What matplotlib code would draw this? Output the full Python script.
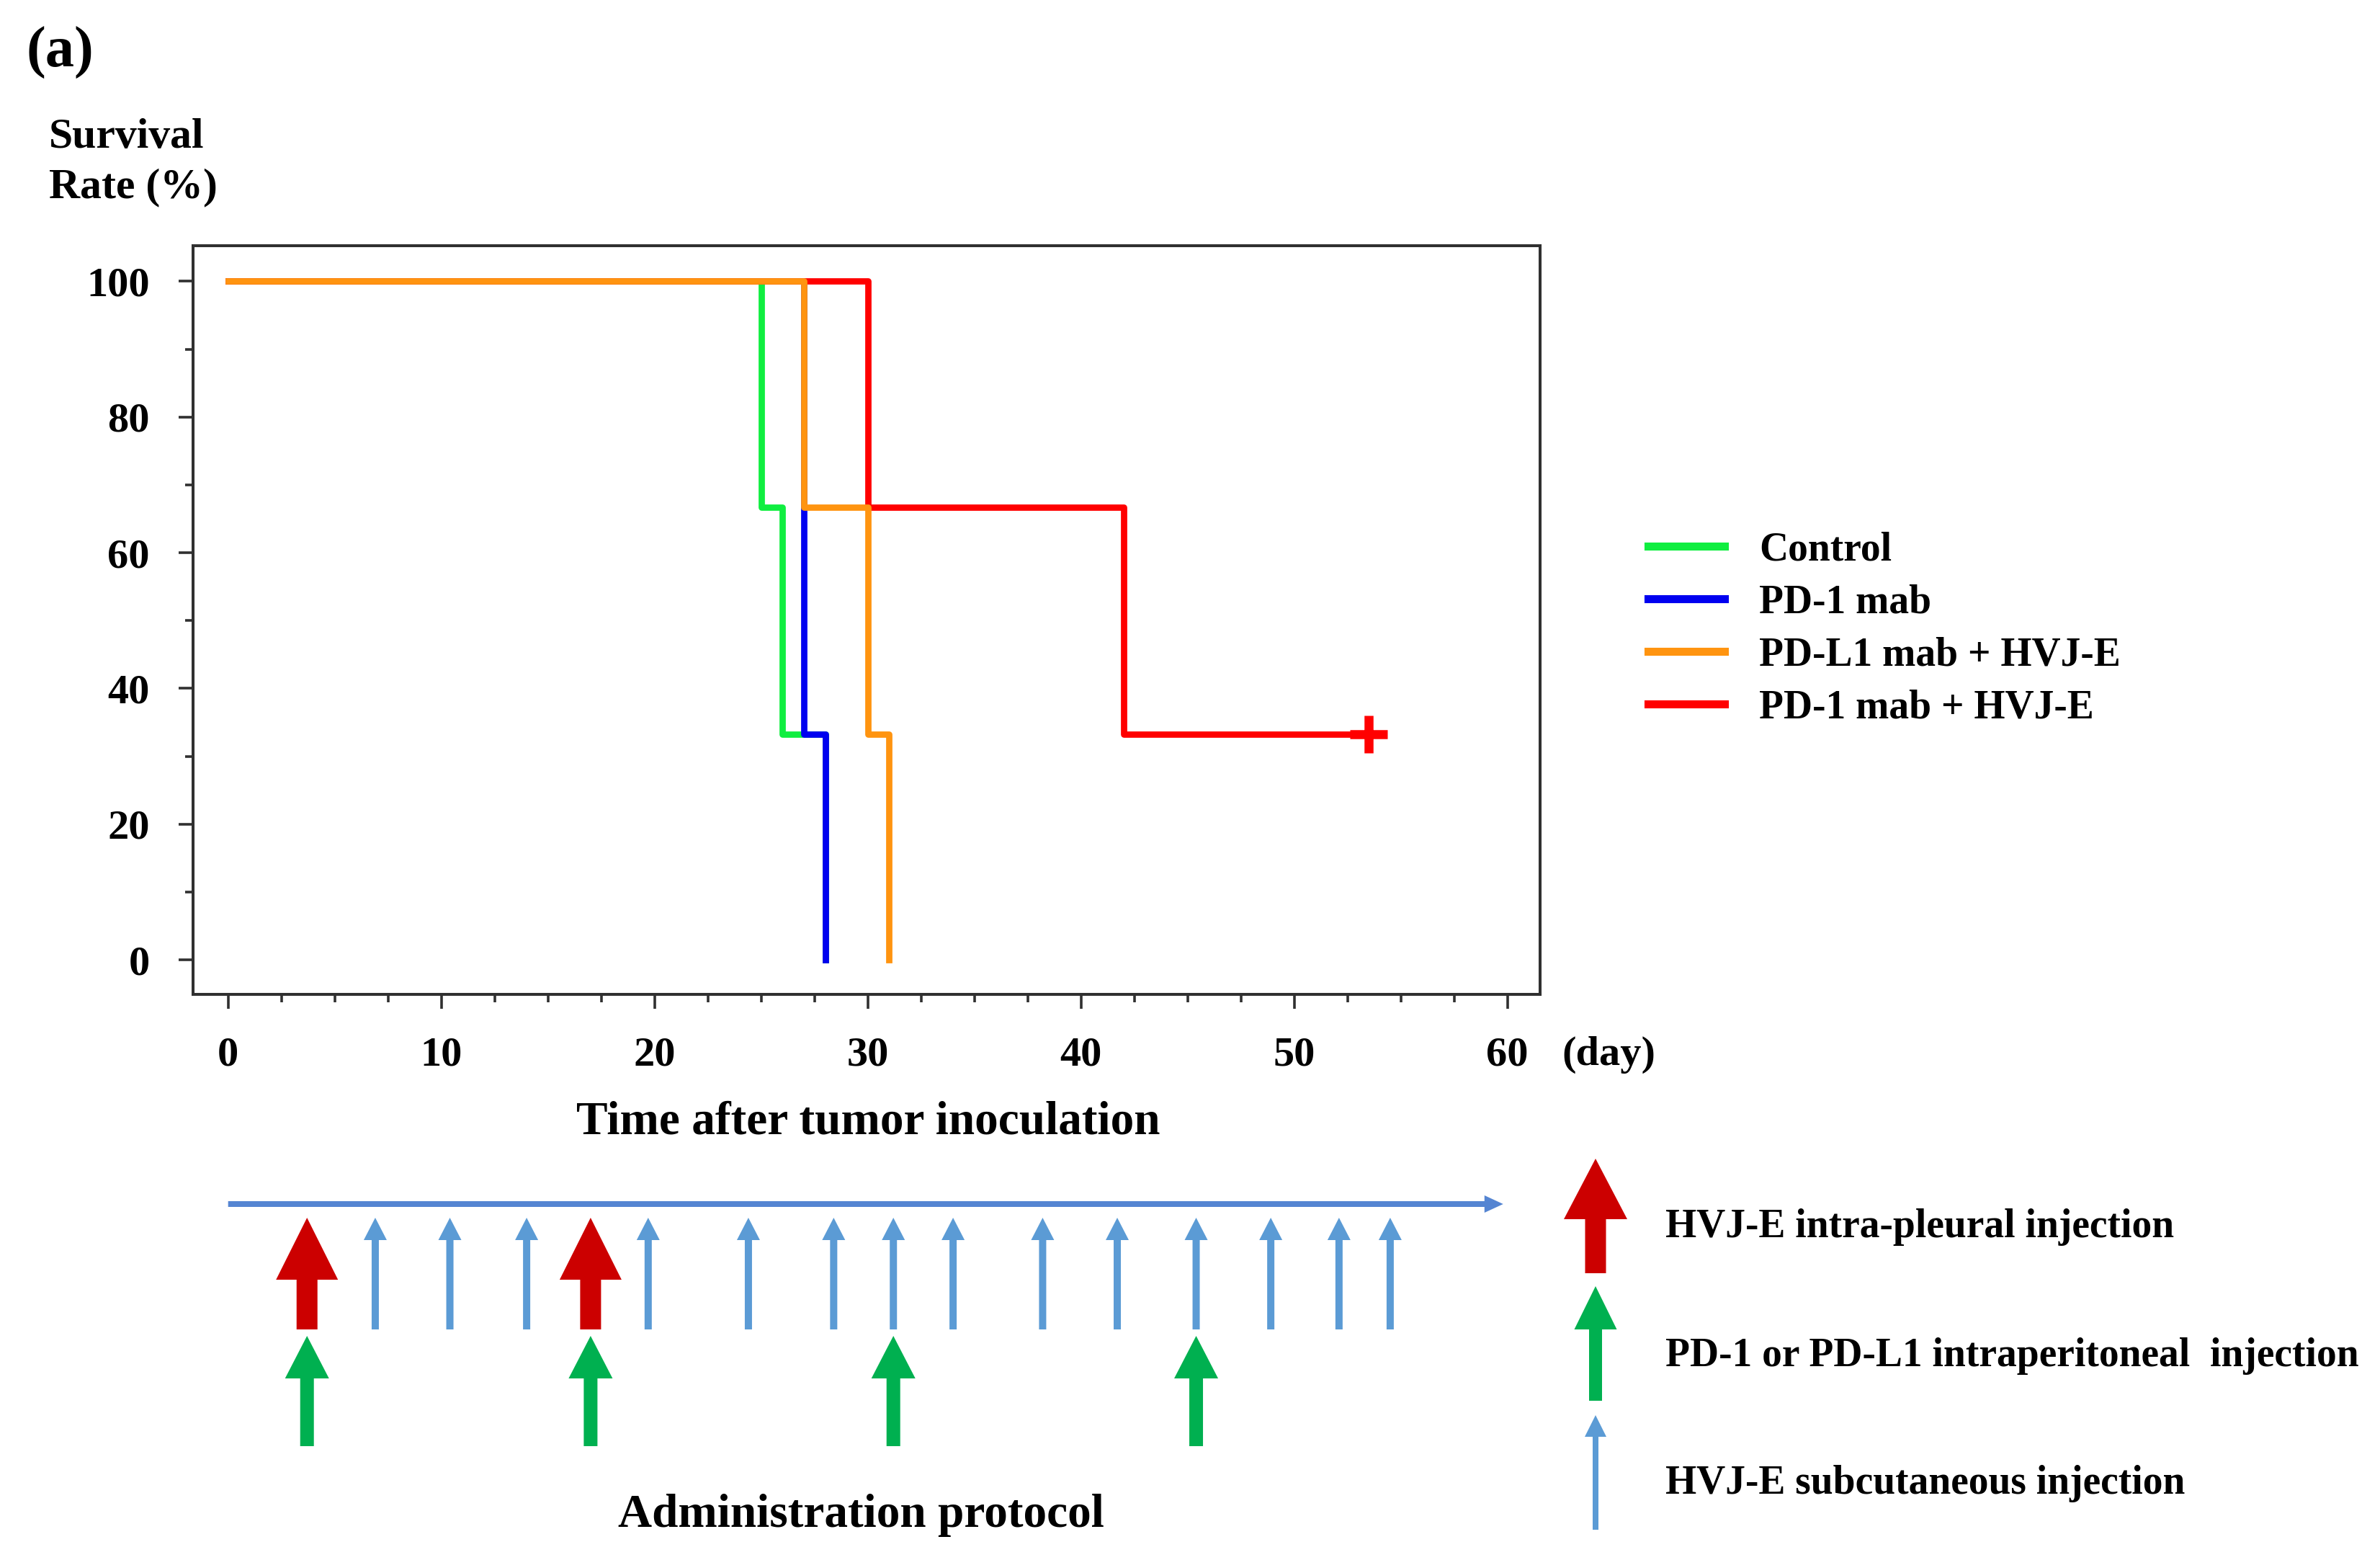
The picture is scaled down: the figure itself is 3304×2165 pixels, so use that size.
import matplotlib
matplotlib.use("Agg")
import matplotlib.pyplot as plt
from matplotlib.ticker import MultipleLocator

# ---------------- data ----------------
groups = ["Control", "PD-1 mab", "PD-L1 mab + HVJ-E", "PD-1 mab + HVJ-E"]
control_t = [0, 25, 26, 28]
control_s = [100, 66.7, 33.3, 0]
pd1_t = [0, 27, 28]
pd1_s = [100, 33.3, 0]
pdl1_hvj_t = [0, 27, 30, 31]
pdl1_hvj_s = [100, 66.7, 33.3, 0]
pd1_hvj_t = [0, 30, 42, 53.5]
pd1_hvj_s = [100, 66.7, 33.3, 33.3]
censor_t = [53.5]
censor_s = [33.3]

x_ticks = [0, 10, 20, 30, 40, 50, 60]
y_ticks = [0, 20, 40, 60, 80, 100]

# administration protocol (days)
pleural_days = [3.7, 17.0]
antibody_days = [3.7, 17.0, 31.2, 45.4]
subcut_days = [6.9, 10.4, 14.0, 19.7, 24.4, 28.4, 31.2, 34.0, 38.2, 41.7,
               45.4, 48.9, 52.1, 54.5]
protocol_labels = ["HVJ-E intra-pleural injection",
                   "PD-1 or PD-L1 intraperitoneal  injection",
                   "HVJ-E subcutaneous injection"]

# ---------------- style ----------------
W, H = 3305, 2165
DPI = 100
FONT = "Liberation Serif"
plt.rcParams["font.family"] = [FONT, "DejaVu Serif"]
plt.rcParams["font.weight"] = "bold"

c_green = "#10EE40"
c_blue = "#0000F0"
c_orange = "#FF9410"
c_red = "#FF0000"
spine_col = "#303030"

fig = plt.figure(figsize=(W / DPI, H / DPI), dpi=DPI)

def fx(px):
    return px / W

def fy(py):
    return 1 - py / H

# main axes in pixel geometry
L, R, T, B = 268, 2138, 341, 1380
ax = fig.add_axes([fx(L), fy(B), (R - L) / W, (B - T) / H])
ax.set_xlim(-1.645, 61.53)
ax.set_ylim(-5.09, 105.25)

lw = 6.3
ax.step(control_t, control_s, where="post", color=c_green, lw=lw, label=groups[0], zorder=2)
ax.step(pd1_t, pd1_s, where="post", color=c_blue, lw=lw, label=groups[1], zorder=3)
ax.step(pd1_hvj_t, pd1_hvj_s, where="post", color=c_red, lw=lw, label=groups[3], zorder=4)
ax.step(pdl1_hvj_t, pdl1_hvj_s, where="post", color=c_orange, lw=lw, label=groups[2], zorder=5)
ax.plot(censor_t, censor_s, linestyle="none", marker="+", markersize=38,
        markeredgewidth=9, color=c_red, zorder=6)

for s in ax.spines.values():
    s.set_linewidth(2.9)
    s.set_color(spine_col)

ax.set_xticks(x_ticks)
ax.set_yticks(y_ticks)
ax.xaxis.set_minor_locator(MultipleLocator(2.5))
ax.yaxis.set_minor_locator(MultipleLocator(10))
ax.tick_params(axis="both", which="major", length=14.4, width=2.6, color=spine_col,
               labelsize=42, direction="out")
ax.tick_params(axis="both", which="minor", length=7.9, width=2.6, color=spine_col,
               direction="out")
ax.tick_params(axis="y", which="major", pad=29)
ax.tick_params(axis="x", which="major", pad=28)
for lab in ax.get_xticklabels() + ax.get_yticklabels():
    lab.set_fontweight("bold")
    lab.set_fontfamily(FONT)

# legend
handles, labels = ax.get_legend_handles_labels()
order = [groups.index(l) for l in labels]
hl = sorted(zip(order, handles, labels))
leg = ax.legend([h for _, h, _ in hl], [l for _, _, l in hl],
                loc="upper left", bbox_to_anchor=(fx(2288), fy(737)),
                bbox_transform=fig.transFigure, frameon=False,
                borderpad=0, borderaxespad=0, handlelength=1.9,
                handletextpad=0.88, labelspacing=0.38,
                prop={"family": FONT, "weight": "bold", "size": 40})
for line in leg.get_lines():
    line.set_linewidth(8)

# texts
fig.text(fx(37), fy(93), "(a)", fontsize=58, fontweight="bold", family=FONT,
         ha="left", va="baseline")
fig.text(fx(68), fy(205), "Survival", fontsize=43, fontweight="bold", family=FONT,
         ha="left", va="baseline")
fig.text(fx(68), fy(274), "Rate (%)", fontsize=43, fontweight="bold", family=FONT,
         ha="left", va="baseline")
fig.text(fx(2168), fy(1464), "(day)", fontsize=42, fontweight="bold", family=FONT,
         ha="left", va="center")
fig.text(fx(1205), fy(1573), "Time after tumor inoculation", fontsize=47,
         fontweight="bold", family=FONT, ha="center", va="baseline")
fig.text(fx(1195), fy(2119), "Administration protocol", fontsize=47,
         fontweight="bold", family=FONT, ha="center", va="baseline")

# ---------------- protocol overlay axes (x in days, y in pixels) ----------------
x0_px, px_per_day = 316.7, 29.6
ax2 = fig.add_axes([0, 0, 1, 1], facecolor="none")
ax2.set_xlim(-x0_px / px_per_day, (W - x0_px) / px_per_day)
ax2.set_ylim(H, 0)
ax2.axis("off")

def d(px):
    return px / px_per_day

c_pl = "#CC0000"
c_ab = "#00B050"
c_sc = "#5B9BD5"
c_tl = "#5585D2"

def up_arrow(x, y_bottom, y_tip, head_len, head_w_px, shaft_w_px, color):
    ax2.arrow(x, y_bottom, 0, y_tip - y_bottom, width=d(shaft_w_px),
              head_width=d(head_w_px), head_length=head_len,
              length_includes_head=True, color=color, lw=0)

# timeline arrow
ax2.arrow(0, 1671, 59.8, 0, width=8, head_width=24, head_length=d(26),
          length_includes_head=True, color=c_tl, lw=0)

for dday in subcut_days:
    up_arrow(dday, 1845, 1690, 31, 32, 10, c_sc)
for dday in pleural_days:
    up_arrow(dday, 1845, 1690, 86, 86, 29, c_pl)
for dday in antibody_days:
    up_arrow(dday, 2007, 1854, 59, 61, 19, c_ab)

# arrow key on the right
kx = (2215 - x0_px) / px_per_day
up_arrow(kx, 1767, 1608, 84, 88, 29, c_pl)
up_arrow(kx, 1944, 1785, 60, 59, 18, c_ab)
up_arrow(kx, 2123, 1964, 30, 30, 8, c_sc)
for lab, yc in zip(protocol_labels, [1703, 1882, 2059]):
    fig.text(fx(2312), fy(yc), lab, fontsize=40, fontweight="bold", family=FONT,
             ha="left", va="center")

fig.savefig("out.png", dpi=DPI)
